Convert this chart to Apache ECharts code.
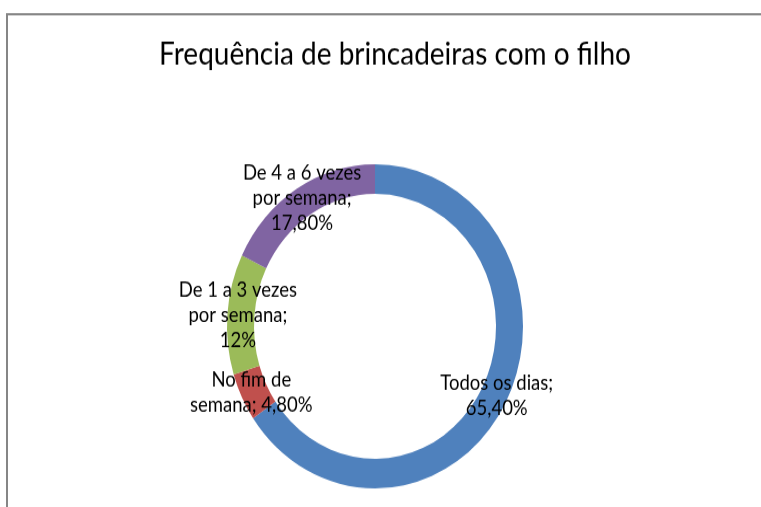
<!DOCTYPE html>
<html>
<head>
<meta charset="utf-8">
<script src="https://cdn.jsdelivr.net/npm/echarts@6/dist/echarts.min.js"></script>
<style>
  html, body { margin: 0; padding: 0; background: #fff; overflow: hidden; }
  #wrap { width: 761px; height: 507px; overflow: hidden; }
  /* o gráfico original está esticado na vertical */
  #chart { width: 761px; height: 463px; transform: scaleY(1.095); transform-origin: 0 0; }
</style>
</head>
<body>
<div id="wrap"><div id="chart"></div></div>
<script>
const titleText = 'Frequência de brincadeiras com o filho';
const categories = ['Todos os dias', 'No fim de semana', 'De 1 a 3 vezes por semana', 'De 4 a 6 vezes por semana'];
const labelText = ['Todos os dias;\n', 'No fim de\nsemana; ', 'De 1 a 3 vezes\npor semana;\n', 'De 4 a 6 vezes\npor semana;\n'];
const values = [65.4, 4.8, 12, 17.8];
const colors = ['#4F81BD', '#C0504D', '#9BBB59', '#8064A2'];

const fmtPct = v => {
  const s = Number.isInteger(v) ? String(v) : v.toFixed(2);
  return s.replace('.', ',') + '%';
};

document.addEventListener('DOMContentLoaded', () => {
  const myChart = echarts.init(document.getElementById('chart'));

  const option = {
    backgroundColor: '#fff',
    animation: false,
    title: {
      text: titleText,
      left: 390,
      top: 31,
      textAlign: 'center',
      textStyle: { fontFamily: 'Lato', fontSize: 28, fontWeight: 'normal', color: '#000' }
    },
    graphic: [{
      type: 'rect',
      shape: { x: 7, y: 13, width: 800, height: 600 },
      style: { fill: 'none', stroke: '#868686', lineWidth: 2 },
      silent: true
    }],
    series: [{
      type: 'pie',
      center: [375, 298],
      radius: [121, 148],
      startAngle: 90,
      clockwise: true,
      avoidLabelOverlap: false,
      data: categories.map((name, i) => ({
        name: name,
        value: values[i],
        itemStyle: { color: colors[i] }
      })),
      label: {
        show: true,
        position: 'inside',
        fontFamily: 'Lato',
        fontSize: 18.5,
        lineHeight: 23,
        color: '#000',
        align: 'center',
        formatter: p => labelText[p.dataIndex] + fmtPct(p.value)
      },
      labelLine: { show: false },
      emphasis: { disabled: true }
    }]
  };

  myChart.setOption(option);
});
</script>
</body>
</html>
